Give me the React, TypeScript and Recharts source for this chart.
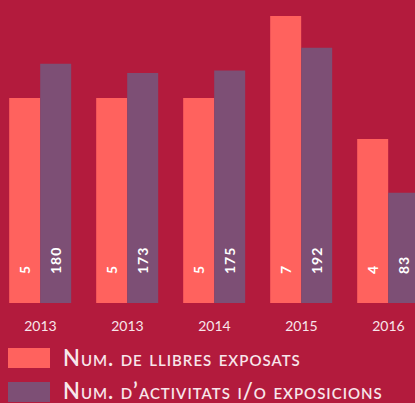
import { Bar, BarChart, LabelList, XAxis, YAxis } from 'recharts';

const years = ['2013', '2013', '2014', '2015', '2016'];
const llibres = [5, 5, 5, 7, 4];
const activitats = [180, 173, 175, 192, 83];
const seriesNames = ['Num. de llibres exposats', "Num. d’activitats i/o exposicions"];

const BG = '#B31B3D';
const SALMON = '#FF625E';
const PURPLE = '#7D4F75';
const TEXT = '#F8E6EB';

const chartData = years.map((year, i) => ({
  year,
  llibres: llibres[i],
  activitats: activitats[i],
}));

function BarValue(props: any) {
  const { x, y, width, height, value } = props;
  const cx = x + width / 2;
  const cy = y + height - 29;
  return (
    <text
      x={cx}
      y={cy}
      transform={`rotate(-90, ${cx}, ${cy})`}
      textAnchor="start"
      dominantBaseline="central"
      fill="#FFFFFF"
      fontSize={14}
      fontWeight={700}
      fontFamily="Lato, sans-serif"
      letterSpacing={1}
    >
      {value}
    </text>
  );
}

export default function App() {
  return (
    <div
      style={{
        position: 'absolute',
        left: 0,
        top: 0,
        width: 415,
        height: 403,
        overflow: 'hidden',
        background: BG,
      }}
    >
      <div style={{ marginLeft: -3 }}>
        <BarChart
          width={435}
          height={335}
          data={chartData}
          margin={{ top: 0, right: 0, bottom: 0, left: 0 }}
          barCategoryGap="14%"
          barGap={0}
        >
          <XAxis
            dataKey="year"
            axisLine={false}
            tickLine={false}
            height={32}
            tickMargin={12}
            tick={{ fill: TEXT, fontSize: 14, fontFamily: 'Lato, sans-serif' }}
          />
          <YAxis yAxisId="a" hide domain={[0, 7.39]} allowDataOverflow />
          <YAxis yAxisId="b" hide domain={[0, 228]} allowDataOverflow />
          <Bar dataKey="llibres" yAxisId="a" fill={SALMON} isAnimationActive={false}>
            <LabelList dataKey="llibres" content={BarValue} />
          </Bar>
          <Bar dataKey="activitats" yAxisId="b" fill={PURPLE} isAnimationActive={false}>
            <LabelList dataKey="activitats" content={BarValue} />
          </Bar>
        </BarChart>
      </div>
      {seriesNames.map((name, i) => (
        <div
          key={name}
          style={{
            position: 'absolute',
            left: 8,
            top: 348 + i * 34,
            display: 'flex',
            alignItems: 'center',
            height: 20,
          }}
        >
          <div style={{ width: 42, height: 20, background: i === 0 ? SALMON : PURPLE }} />
          <span
            style={{
              marginLeft: 13,
              marginTop: i === 0 ? 0 : -3,
              color: TEXT,
              fontFamily: 'Lato, sans-serif',
              fontVariant: 'small-caps',
              fontWeight: 600,
              fontSize: 22,
              letterSpacing: 1,
              whiteSpace: 'nowrap',
              lineHeight: '20px',
            }}
          >
            {name}
          </span>
        </div>
      ))}
    </div>
  );
}
